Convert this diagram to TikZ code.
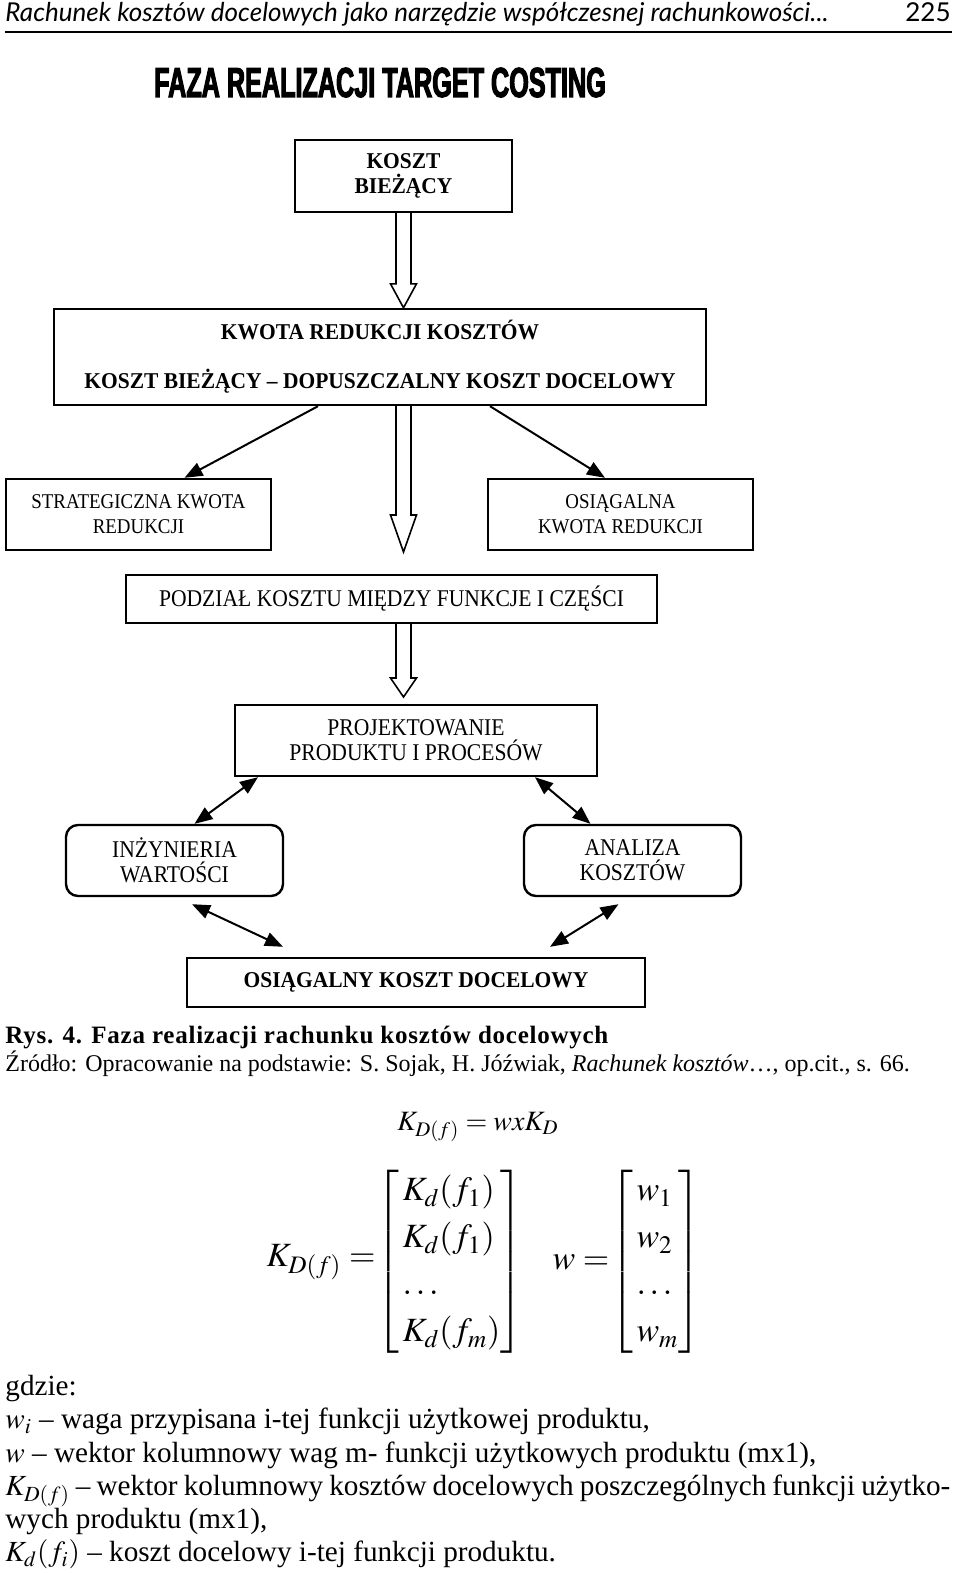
\documentclass[tikz,border=0pt]{standalone}
\usepackage{amsmath}
\usepackage{mathptmx}
\usepackage{fontspec}
\setmainfont{Liberation Serif}
\newfontfamily\headfont{Lato}
\newfontfamily\titlefont[FakeStretch=0.6,FakeBold=2.5]{Liberation Sans}
\newfontfamily\boxfont[FakeStretch=0.9]{Liberation Serif}
\newfontfamily\boldboxfont[FakeStretch=0.95]{Liberation Serif}
\usetikzlibrary{positioning,arrows.meta,calc}

% hollow block arrow: [head length]{from}{tip}
\newcommand{\hollowarrow}[3][24]{%
  \draw[hollowline] ($(#2)+(-7.5,0)$) -- ($(#3)+(-7.5,-#1)$) -- ($(#3)+(-13,-#1)$)
    -- (#3) -- ($(#3)+(13,-#1)$) -- ($(#3)+(7.5,-#1)$) -- ($(#2)+(7.5,0)$);}

\begin{document}
\begin{tikzpicture}
  [x=0.5pt, y=-0.5pt,
  box/.style={rectangle, draw, line width=1.2pt, inner sep=0pt, align=center,
    font=\boxfont\fontsize{10.5}{12.5}\selectfont},
  bigbox/.style={box, font=\boxfont\fontsize{12}{12.5}\selectfont},
  boldbox/.style={box, font=\boldboxfont\bfseries\fontsize{11.3}{12.5}\selectfont},
  softbox/.style={bigbox, rounded corners=6pt},
  line/.style={draw, line width=1pt, -{Triangle[length=9pt,width=7pt]}},
  twoline/.style={draw, line width=1pt,
    {Triangle[length=9pt,width=7pt]}-{Triangle[length=9pt,width=7pt]}},
  hollowline/.style={draw, line width=0.8pt, fill=white},
  mathbig/.style={font=\fontsize{17}{23.5}\selectfont, inner sep=0pt}]
  \fill[white] (0,0) rectangle (960,1573);
  \useasboundingbox (0,0) rectangle (960,1573);

  % page head
  \node [anchor=base west, inner sep=0pt, font=\headfont\itshape\fontsize{13}{15}\selectfont]
    (runhead) at (5,22) {Rachunek kosztów docelowych jako narzędzie współczesnej rachunkowości...};
  \node [anchor=base east, inner sep=0pt, font=\headfont\fontsize{13}{15}\selectfont]
    (pageno) at (951,22) {225};
  \draw [line width=0.8pt] (5,32) -- (952,32);

  % nodes
  \node [anchor=base, inner sep=0pt, font=\titlefont\bfseries\fontsize{21}{24}\selectfont]
    (title) at (380,97) {FAZA REALIZACJI TARGET COSTING};
  \node [boldbox, minimum width=108.5pt, minimum height=36pt] (koszt) at (403.5,176)
    {KOSZT\\BIEŻĄCY};
  \node [boldbox, minimum width=326pt, minimum height=48pt] (kwota) at (380,357)
    {KWOTA REDUKCJI KOSZTÓW\\[12pt]KOSZT BIEŻĄCY – DOPUSZCZALNY KOSZT DOCELOWY};
  \node [box, minimum width=132.5pt, minimum height=35.5pt] (strat) at (138.5,514.5)
    {STRATEGICZNA KWOTA\\REDUKCJI};
  \node [box, minimum width=132.5pt, minimum height=35.5pt] (osiag) at (620.5,514.5)
    {OSIĄGALNA\\KWOTA REDUKCJI};
  \node [bigbox, minimum width=265.5pt, minimum height=24pt] (podzial) at (391.5,599)
    {PODZIAŁ KOSZTU MIĘDZY FUNKCJE I CZĘŚCI};
  \node [bigbox, minimum width=181pt, minimum height=35.5pt] (proj) at (416,740.5)
    {PROJEKTOWANIE\\PRODUKTU I PROCESÓW};
  \node [softbox, minimum width=108.5pt, minimum height=35.5pt] (inz) at (174.5,860.5)
    {INŻYNIERIA\\WARTOŚCI};
  \node [softbox, minimum width=108.5pt, minimum height=35.5pt] (anal) at (632.5,860.5)
    {ANALIZA\\KOSZTÓW};
  \node [boldbox, minimum width=229pt, minimum height=24.5pt] (docel) at (416,982.5)
    {OSIĄGALNY KOSZT DOCELOWY};

  \coordinate (h1) at (koszt.south |- kwota.north);
  \coordinate (h2s) at (koszt.south |- kwota.south);
  \coordinate (h2e) at (403.5,552);
  \coordinate (h3s) at (koszt.south |- podzial.south);
  \coordinate (h3e) at (403.5,697);

  % edges
  \hollowarrow{koszt.south}{h1}
  \hollowarrow[37]{h2s}{h2e}
  \hollowarrow[19]{h3s}{h3e}
  \path [line] ([xshift=-31pt]kwota.south) -- ([xshift=23pt]strat.north);
  \path [line] ([xshift=55pt]kwota.south) -- ([xshift=-7.75pt]osiag.north);
  \path [twoline] ([xshift=-79pt]proj.south) -- ([xshift=10pt]inz.north);
  \path [twoline] ([xshift=59.5pt]proj.south) -- ([xshift=-21pt]anal.north);
  \path [twoline] ([xshift=8.75pt,yshift=-3.5pt]inz.south) -- ([xshift=-66.5pt,yshift=5pt]docel.north);
  \path [twoline] ([xshift=-7pt,yshift=-3.5pt]anal.south) -- ([xshift=67pt,yshift=5pt]docel.north);

  % caption
  \node [anchor=base west, inner sep=0pt,
    font=\bfseries\addfontfeature{LetterSpace=3}\fontsize{12.5}{14}\selectfont]
    (rys) at (5,1043) {Rys. 4. Faza realizacji rachunku kosztów docelowych};
  \node [anchor=base west, inner sep=0pt, font=\fontsize{12}{14}\selectfont]
    (zrodlo) at (5,1071) {Źródło: Opracowanie na podstawie: S. Sojak, H. Jóźwiak,
    \textit{Rachunek kosztów}…, op.cit., s. 66.};

  % formulas
  \node [font=\fontsize{14}{16}\selectfont] (wzor) at (478,1127) {$K_{D(f)} = wxK_D$};
  \node [mathbig] (kdf) at (321,1262) {$K_{D(f)} =$};
  \node [mathbig, right=0pt of kdf] (kmat)
    {$\left[\begin{array}{@{\,}l@{}} K_d(f_1)\\ K_d(f_1)\\ \dots\\ K_d(f_m) \end{array}\right]$};
  \node [mathbig] (weq) at (581,1262) {$w =$};
  \node [mathbig, right=0pt of weq] (wmat)
    {$\left[\begin{array}{@{\,}l@{}} w_1\\ w_2\\ \dots\\ w_m \end{array}\right]$};

  % legend
  \node [anchor=north west, inner sep=0pt, align=left, font=\fontsize{14.6}{16.6}\selectfont]
    (gdzie) at (5,1375) {gdzie:\\
    $w_i$ – waga przypisana i-tej funkcji użytkowej produktu,\\
    $w$ – wektor kolumnowy wag m- funkcji użytkowych produktu (mx1),\\
    \makebox[472.5pt][s]{$K_{D(f)}$ – wektor kolumnowy kosztów docelowych poszczególnych funkcji użytko-}\\
    wych produktu (mx1),\\
    $K_d(f_i)$ – koszt docelowy i-tej funkcji produktu.};
\end{tikzpicture}
\end{document}
